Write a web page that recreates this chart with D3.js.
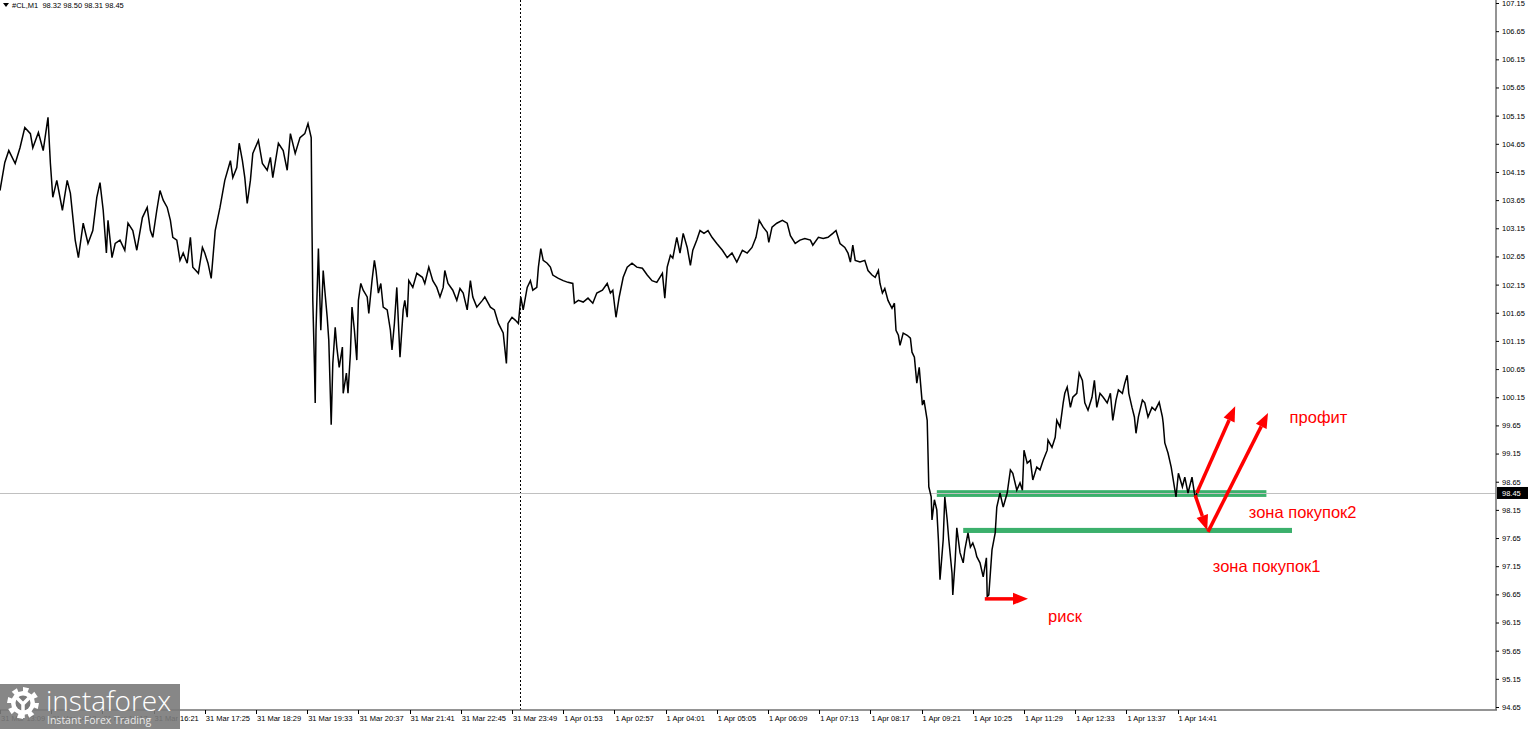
<!DOCTYPE html>
<html><head><meta charset="utf-8">
<script src="https://cdn.jsdelivr.net/npm/d3@7"></script>
<style>html,body{margin:0;padding:0;background:#fff;overflow:hidden}</style>
</head><body><svg id="c" width="1530" height="729"></svg>
<script>
// ---- DATA ----
const symbolHeader = "#CL,M1  98.32 98.50 98.31 98.45";
const lastPrice = 98.45;
const barIndex = [0,6,11,19,25,31,38,41,48,54,60,63,66,71,78,84,88,94,98,104,110,116,121,125,129,133,135,140,144,150,156,160,166,171,178,184,188,191,196,200,204,209,213,216,221,225,229,234,238,241,248,253,256,260,264,269,275,281,288,291,296,299,303,306,309,313,316,323,328,334,338,341,348,354,359,363,369,375,381,385,389,390,391,393,394,395,398,401,404,406,409,411,414,416,419,421,424,428,429,433,435,438,440,443,446,448,451,454,459,461,465,468,470,473,476,479,484,488,490,493,496,500,504,506,509,511,516,521,528,531,536,541,546,550,554,556,560,566,571,575,579,584,588,591,596,603,606,613,618,623,629,633,635,640,644,648,651,654,659,663,666,671,673,676,679,684,688,691,698,704,710,716,718,723,729,735,741,746,753,759,763,766,770,774,779,784,790,796,803,809,815,821,828,831,834,838,841,846,850,854,859,863,866,871,875,880,885,890,896,903,909,915,921,928,934,940,945,949,954,959,961,965,971,978,984,988,994,1000,1006,1013,1016,1023,1029,1035,1041,1045,1050,1056,1060,1063,1066,1069,1075,1081,1085,1090,1094,1098,1100,1103,1106,1110,1115,1118,1120,1123,1125,1129,1134,1138,1140,1143,1146,1149,1153,1155,1159,1160,1161,1164,1165,1168,1171,1173,1175,1178,1179,1181,1184,1186,1190,1191,1194,1196,1200,1204,1206,1210,1213,1216,1219,1221,1225,1229,1233,1234,1236,1240,1244,1246,1250,1254,1259,1263,1266,1271,1275,1278,1280,1284,1288,1291,1296,1300,1304,1309,1310,1315,1319,1321,1325,1329,1331,1334,1338,1341,1346,1349,1353,1356,1360,1365,1368,1371,1375,1379,1384,1388,1391,1395,1398,1403,1406,1409,1411,1415,1418,1420,1423,1428,1431,1435,1440,1444,1449,1453,1454,1456,1460,1464,1466,1470,1473,1478,1481,1485,1490,1493,1495,1496];
const closePrice = [103.82,104.32,104.53,104.30,104.58,104.94,104.83,104.58,104.85,104.53,105.12,104.30,103.70,104.00,103.47,104.00,103.77,102.94,102.63,103.24,102.88,103.11,103.70,103.96,103.47,102.71,103.29,102.63,102.88,102.94,102.76,103.24,103.11,102.76,103.34,103.52,103.11,102.99,103.47,103.82,103.65,103.52,103.29,102.99,102.94,102.58,102.71,102.53,102.99,102.46,102.35,102.81,102.71,102.53,102.26,103.11,103.52,104.00,104.35,104.05,104.23,104.66,104.35,104.05,103.59,104.00,104.48,104.71,104.30,104.18,104.41,104.05,104.66,104.53,104.18,104.83,104.48,104.76,104.83,105.01,104.76,103.17,101.87,100.75,100.05,101.34,102.79,101.34,102.40,102.05,101.57,101.16,99.66,100.75,101.39,101.04,100.68,101.04,100.22,100.58,100.22,100.93,101.75,101.34,100.81,101.87,102.17,102.05,101.93,101.64,102.22,102.58,102.40,102.00,102.17,101.75,101.70,101.34,100.99,101.46,102.10,100.86,101.70,101.87,101.57,102.22,102.10,102.35,102.28,102.17,102.46,102.22,102.10,101.93,102.10,102.40,102.17,102.05,101.87,102.08,102.00,101.70,102.22,101.93,101.75,101.87,101.93,101.75,101.70,101.46,101.29,100.75,101.46,101.57,101.52,101.46,101.93,101.70,102.10,102.22,102.05,102.10,102.46,102.79,102.58,102.53,102.46,102.32,102.26,102.22,102.19,102.17,101.82,101.87,101.84,101.91,101.82,102.00,102.05,102.17,102.00,102.05,101.57,101.93,102.28,102.46,102.53,102.46,102.44,102.32,102.22,102.19,102.35,101.91,102.46,102.67,102.62,102.99,102.71,103.06,102.81,102.49,102.76,102.94,103.11,103.06,103.11,102.99,102.88,102.76,102.63,102.71,102.55,102.76,102.71,102.81,102.99,103.29,103.17,103.08,102.90,103.17,103.24,103.29,103.24,103.02,102.88,102.94,102.97,102.94,102.85,102.99,102.97,102.99,103.06,103.11,102.88,102.81,102.71,102.55,102.85,102.58,102.55,102.58,102.40,102.32,102.28,102.40,102.17,102.00,102.08,101.87,101.73,101.82,101.34,101.25,101.07,101.29,101.25,101.20,100.95,100.86,100.40,100.68,100.01,100.10,99.74,99.16,98.56,98.38,97.97,98.33,98.15,97.62,96.91,97.44,97.62,98.38,97.97,97.62,97.03,96.64,97.26,97.83,97.39,97.21,97.44,97.74,97.49,97.56,97.44,97.32,97.21,96.96,97.30,96.61,96.64,97.44,97.74,98.20,98.45,98.20,98.45,98.86,98.80,98.50,98.63,98.50,99.21,98.98,99.03,98.68,98.91,98.86,99.03,99.21,99.39,99.26,99.44,99.74,99.62,100.05,100.22,100.33,99.97,100.15,100.22,100.58,100.45,100.05,99.92,100.15,100.45,99.97,100.22,100.15,100.05,100.22,99.74,100.10,100.28,100.22,100.40,100.54,100.22,99.97,99.80,99.51,99.80,100.10,100.05,99.80,99.97,99.92,100.06,99.80,99.69,99.34,99.16,98.91,98.73,98.38,98.80,98.56,98.73,98.45,98.73,98.45,98.33,98.45];
const priceTicks = [94.65,95.15,95.65,96.15,96.65,97.15,97.65,98.15,98.65,99.15,99.65,100.15,100.65,101.15,101.65,102.15,102.65,103.15,103.65,104.15,104.65,105.15,105.65,106.15,106.65,107.15];
const timeLabels = ["31 Mar 13:09","31 Mar 14:13","31 Mar 15:17","31 Mar 16:21","31 Mar 17:25","31 Mar 18:29","31 Mar 19:33","31 Mar 20:37","31 Mar 21:41","31 Mar 22:45","31 Mar 23:49","1 Apr 01:53","1 Apr 02:57","1 Apr 04:01","1 Apr 05:05","1 Apr 06:09","1 Apr 07:13","1 Apr 08:17","1 Apr 09:21","1 Apr 10:25","1 Apr 11:29","1 Apr 12:33","1 Apr 13:37","1 Apr 14:41"];
const barsPerLabel = 64;
const daySeparatorBar = 650;
// buy zones
const zoneStartBar = [1171, 1204];
const zoneEndBar = [1583, 1615];
const zoneHigh = [98.50, 97.83];
const zoneLow = [98.38, 97.74];
// arrows [bar, price] -> [bar, price]
const arrowFrom = [[1231,96.57],[1494,98.41],[1510,97.76],[1496,98.45]];
const arrowTo   = [[1285,96.57],[1509,97.79],[1585,99.87],[1544,99.99]];
// annotation texts
const noteText = ["профит","зона покупок2","зона покупок1","риск"];
const noteBar = [1612,1561,1516,1310];
const notePrice = [99.69,98.01,97.05,96.16];

// ---- CHART ----
const svg = d3.select("#c");
const plotRight = 1496, axisY = 710;
const x = d3.scaleLinear().domain([0, 1870]).range([0, plotRight]);
const y = d3.scaleLinear().domain([94.65, 107.15]).range([707, 3]);
const fontAxis = "'Liberation Sans', Arial, sans-serif";

// day separator
svg.append("line").attr("x1", Math.round(x(daySeparatorBar))+0.5).attr("x2", Math.round(x(daySeparatorBar))+0.5)
  .attr("y1", 0).attr("y2", axisY).attr("stroke", "#000").attr("stroke-width", 1).attr("stroke-dasharray", "2,2");

// buy zones
svg.selectAll("rect.zone").data(zoneStartBar).enter().append("rect")
  .attr("x", (d) => x(d)).attr("width", (d,i) => x(zoneEndBar[i]) - x(d))
  .attr("y", (d,i) => y(zoneHigh[i])).attr("height", (d,i) => y(zoneLow[i]) - y(zoneHigh[i]))
  .attr("fill", "#3bb06c");

// last price line
svg.append("line").attr("x1", 0).attr("x2", plotRight).attr("y1", Math.round(y(lastPrice))+0.5).attr("y2", Math.round(y(lastPrice))+0.5)
  .attr("stroke", "#c0c0c0").attr("stroke-width", 1);

// price line
const pts = barIndex.map((b,i) => [b, closePrice[i]]);
svg.append("path").datum(pts)
  .attr("d", d3.line().x(d => x(d[0])).y(d => y(d[1])))
  .attr("fill", "none").attr("stroke", "#000").attr("stroke-width", 1.5).attr("stroke-linejoin", "miter");

// arrows
const red = "#ff0000";
arrowFrom.forEach((f, i) => {
  const t = arrowTo[i];
  const x1 = x(f[0]), y1 = y(f[1]), x2 = x(t[0]), y2 = y(t[1]);
  const ang = Math.atan2(y2 - y1, x2 - x1);
  const hl = 15, hw = 6;
  const bx = x2 - hl * Math.cos(ang), by = y2 - hl * Math.sin(ang);
  svg.append("line").attr("x1", x1).attr("y1", y1).attr("x2", bx).attr("y2", by)
    .attr("stroke", red).attr("stroke-width", 3.5);
  const px = -Math.sin(ang), py = Math.cos(ang);
  svg.append("polygon").attr("points", [[x2,y2],[bx+px*hw, by+py*hw],[bx-px*hw, by-py*hw]].map(p=>p.join(",")).join(" "))
    .attr("fill", red);
});

// notes
svg.selectAll("text.note").data(noteText).enter().append("text")
  .attr("x", (d,i) => x(noteBar[i])).attr("y", (d,i) => y(notePrice[i]))
  .attr("fill", red).attr("font-family", fontAxis).attr("font-size", 16.5).text(d => d);

// axes lines
svg.append("line").attr("x1", 0).attr("x2", plotRight+1).attr("y1", axisY).attr("y2", axisY).attr("stroke", "#707070").attr("stroke-width", 1.5);
svg.append("line").attr("x1", plotRight).attr("x2", plotRight).attr("y1", 0).attr("y2", axisY).attr("stroke", "#707070").attr("stroke-width", 1.5);

// right axis via d3.axisRight
const yAxis = d3.axisRight(y).tickValues(priceTicks).tickFormat(d3.format(".2f")).tickSize(3).tickPadding(3);
const gy = svg.append("g").attr("transform", `translate(${plotRight},0)`).call(yAxis);
gy.select(".domain").remove();
gy.selectAll("text").attr("font-family", fontAxis).attr("font-size", 7.5).attr("fill", "#000");
gy.selectAll("line").attr("stroke", "#000");

// last price label box
svg.append("rect").attr("x", plotRight+1).attr("y", y(lastPrice)-6).attr("width", 31).attr("height", 12).attr("fill", "#000");
svg.append("text").attr("x", plotRight+6).attr("y", y(lastPrice)+3).attr("fill", "#fff")
  .attr("font-family", fontAxis).attr("font-size", 7.5).text(lastPrice.toFixed(2));

// bottom axis
const labelBars = timeLabels.map((d,i) => i * barsPerLabel);
const gx = svg.append("g");
gx.selectAll("line").data(labelBars).enter().append("line")
  .attr("x1", d => Math.round(x(d))+0.5).attr("x2", d => Math.round(x(d))+0.5)
  .attr("y1", axisY).attr("y2", axisY+4).attr("stroke", "#000");
gx.selectAll("text").data(timeLabels).enter().append("text")
  .attr("x", (d,i) => x(labelBars[i]) + 1).attr("y", axisY + 11)
  .attr("font-family", fontAxis).attr("font-size", 7.5).attr("fill", "#000").text(d => d);

// header
svg.append("path").attr("d", "M3,3 L9,3 L6,7 Z").attr("fill", "#000");
svg.append("text").attr("x", 12).attr("y", 8).attr("font-family", fontAxis).attr("font-size", 7.5)
  .attr("fill", "#000").attr("xml:space", "preserve").style("white-space", "pre").text(symbolHeader);

// instaforex logo
const logo = svg.append("g");
logo.append("rect").attr("x", 0).attr("y", 684).attr("width", 180).attr("height", 45).attr("fill", "#7a7a7a").attr("opacity", 0.9);
const gcx = 23, gcy = 703, R = 16, r = 12;
let gear = "";
const teeth = 8;
for (let k = 0; k < teeth * 2; k++) {
  const a0 = (k / (teeth*2)) * Math.PI * 2, a1 = ((k+1) / (teeth*2)) * Math.PI * 2;
  const rad = k % 2 === 0 ? R : r;
  gear += (k === 0 ? "M" : "L") + (gcx + rad*Math.cos(a0)).toFixed(1) + "," + (gcy + rad*Math.sin(a0)).toFixed(1);
  gear += "L" + (gcx + rad*Math.cos(a1)).toFixed(1) + "," + (gcy + rad*Math.sin(a1)).toFixed(1);
}
gear += "Z";
logo.append("path").attr("d", gear).attr("fill", "#fff");
logo.append("circle").attr("cx", gcx).attr("cy", gcy).attr("r", 7.5).attr("fill", "#7a7a7a");
logo.append("path").attr("d", `M${gcx-6},${gcy-5} L${gcx},${gcy+1} L${gcx+6},${gcy-5} M${gcx},${gcy+1} L${gcx},${gcy+15}`)
  .attr("stroke", "#fff").attr("stroke-width", 3.5).attr("fill", "none");
logo.append("text").attr("x", 46).attr("y", 711).attr("font-family", "'Open Sans', sans-serif").attr("font-weight", 300)
  .attr("font-size", 28).attr("fill", "#fff").text("instaforex");
logo.append("text").attr("x", 47).attr("y", 724).attr("font-family", "'Open Sans', sans-serif")
  .attr("font-size", 10.5).attr("fill", "#e8e8e8").text("Instant Forex Trading");
</script></body></html>
